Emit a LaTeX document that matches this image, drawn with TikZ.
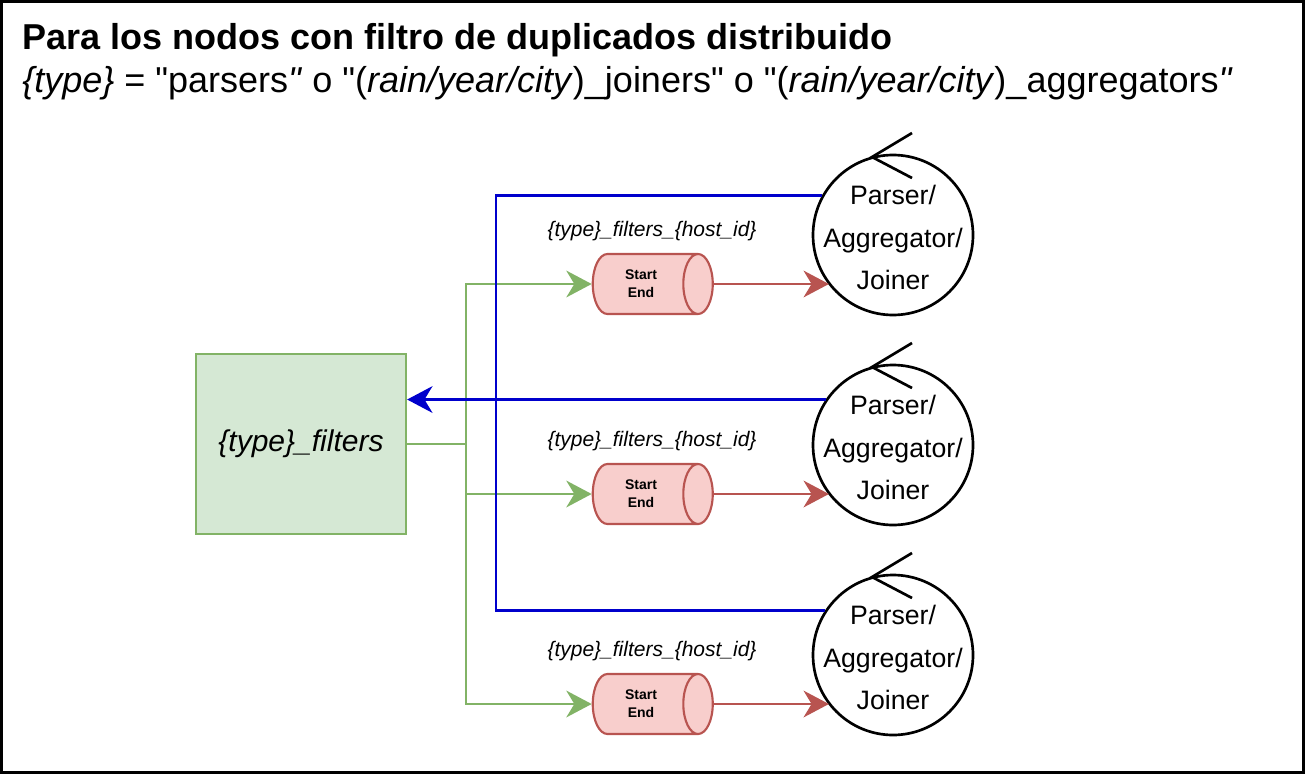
\documentclass[tikz,border=0pt]{standalone}
\usepackage{fontspec}
\setmainfont{Liberation Sans}[Ligatures=TeXOff]
\usetikzlibrary{shapes.geometric, arrows.meta, positioning}

\definecolor{grnfill}{HTML}{D5E8D4}
\definecolor{grnline}{HTML}{82B366}
\definecolor{redfill}{HTML}{F8CECC}
\definecolor{redline}{HTML}{B85450}
\definecolor{bluline}{HTML}{0000CC}

\begin{document}
\begin{tikzpicture}[
        x=0.75pt, y=-0.75pt,
        filterbox/.style={rectangle, draw=grnline, fill=grnfill, line width=1.7pt, minimum width=157.5pt, minimum height=135pt, font=\fontsize{22.5}{27}\selectfont\itshape},
        queue/.style={cylinder, draw=redline, fill=redfill, line width=1.6pt, shape aspect=0.8, minimum width=45pt, minimum height=90pt, align=center, font=\fontsize{10.5}{13.5}\selectfont\bfseries},
        worker/.style={circle, draw, line width=2pt, minimum size=120pt, inner sep=0pt},
        wtext/.style={align=center, inner sep=0pt, font=\fontsize{20}{32}\selectfont},
        qlabel/.style={font=\fontsize{15.75}{18}\selectfont\itshape, inner sep=0pt, xshift=8.25pt},
        gline/.style={draw=grnline, line width=2pt},
        rline/.style={draw=redline, line width=2pt},
        bline/.style={draw=bluline, line width=2pt},
        >={Stealth[length=19pt, width=20pt, inset=6pt]}
    ]
    \useasboundingbox (0,0) rectangle (1305,774);
    \draw[line width=2.2pt] (1.5,1.5) rectangle (1303.5,772.5);

    % Title
    \node[anchor=base west, inner sep=0pt, font=\fontsize{27}{32}\selectfont\bfseries] (title) at (22,50) {Para los nodos con filtro de duplicados distribuido};
    \node[anchor=base west, inner sep=0pt, font=\fontsize{27}{32}\selectfont] (subtitle) at (22,93) {\textit{\{type\}} = "parsers\textit{"} o "(\textit{rain/year/city})\_joiners" o "(\textit{rain/year/city})\_aggregators\textit{"}};

    % Filters node
    \node[filterbox] (filters) at (301,444) {\{type\}\_filters};

    % Queues
    \node[queue] (q1) at (641,284) {Start\\End};
    \node[queue] (q2) at (641,494) {Start\\End};
    \node[queue] (q3) at (641,704) {Start\\End};

    \node[qlabel, above=9pt of q1] (l1) {\{type\}\_filters\_\{host\_id\}};
    \node[qlabel, above=9pt of q2] (l2) {\{type\}\_filters\_\{host\_id\}};
    \node[qlabel, above=9pt of q3] (l3) {\{type\}\_filters\_\{host\_id\}};

    % Workers
    \node[worker, label={[wtext, yshift=-2pt]center:{Parser/\\Aggregator/\\Joiner}}] (w1) at (893,235) {};
    \node[worker, label={[wtext, yshift=-2pt]center:{Parser/\\Aggregator/\\Joiner}}] (w2) at (893,445) {};
    \node[worker, label={[wtext, yshift=-2pt]center:{Parser/\\Aggregator/\\Joiner}}] (w3) at (893,655) {};

    % Control marks
    \foreach \w in {w1, w2, w3}
        \draw[line width=2pt] (\w.center) ++(19,-102) -- ++(-40,24) -- ++(40,21);

    % Filters -> queues
    \coordinate (gsplit) at (466,444);
    \draw[gline, ->] (filters.east) -- (gsplit) |- (q1.west);
    \draw[gline, ->] (gsplit) |- (q2.west);
    \draw[gline, ->] (gsplit) |- (q3.west);

    % Queues -> workers
    \draw[rline, ->] (q1.east) -- (q1.east -| w1.218);
    \draw[rline, ->] (q2.east) -- (q2.east -| w2.218);
    \draw[rline, ->] (q3.east) -- (q3.east -| w3.218);

    % Workers -> filters
    \coordinate (bsplit) at (496,400);
    \draw[bline] (w1.151) -| (bsplit) |- (w3.147);
    \draw[bline, ->] (w2.146) -- (w2.146 -| filters.east);

\end{tikzpicture}
\end{document}
